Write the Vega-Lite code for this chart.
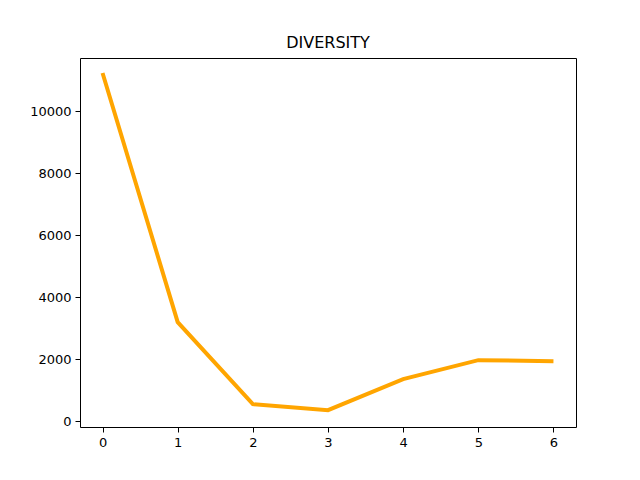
{"$schema": "https://vega.github.io/schema/vega-lite/v6.json",
  "width": 496,
  "height": 369,
  "autosize": {"type": "none"},
  "padding": {"left": 80, "top": 58, "right": 64, "bottom": 53},
  "background": "white",
  "title": {"text": "DIVERSITY", "font": "DejaVu Sans", "fontSize": 16, "fontWeight": "normal", "offset": 7},
  "config": {
    "view": {"stroke": "black", "strokeWidth": 1},
    "axis": {"labelFont": "DejaVu Sans", "labelFontSize": 13, "labelColor": "black", "grid": false, "domain": false,
      "tickColor": "black", "tickSize": 5, "labelPadding": 4, "title": null}
  },
  "data": {"values": [
    {"x": 0, "y": 11226},
    {"x": 1, "y": 3194},
    {"x": 2, "y": 548},
    {"x": 3, "y": 355},
    {"x": 4, "y": 1355},
    {"x": 5, "y": 1968},
    {"x": 6, "y": 1935}
  ]},
  "mark": {"type": "line", "color": "#FFA500", "strokeWidth": 4},
  "encoding": {
    "x": {"field": "x", "type": "quantitative", "scale": {"domain": [-0.3, 6.3], "nice": false, "zero": false},
      "axis": {"values": [0, 1, 2, 3, 4, 5, 6], "format": "d"}},
    "y": {"field": "y", "type": "quantitative", "scale": {"domain": [-188, 11710], "nice": false},
      "axis": {"values": [0, 2000, 4000, 6000, 8000, 10000], "format": "d"}}
  }
}
